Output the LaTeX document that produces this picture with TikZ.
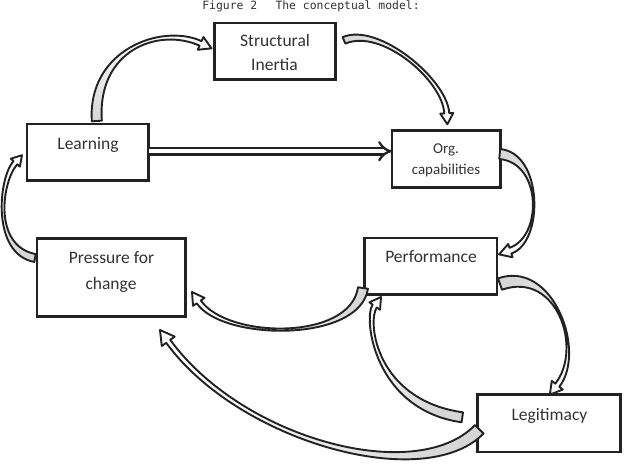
\documentclass[tikz,border=0pt]{standalone}
\usepackage{fontspec}
\setmainfont{Carlito}
\newfontfamily\ttlfont{DejaVu Sans Mono}
\newfontfamily\cjkfont{Noto Sans CJK JP}
\usetikzlibrary{calc,arrows.meta}
\definecolor{ink}{HTML}{222222}
\definecolor{txt}{HTML}{333333}
\tikzset{
  box/.style={draw=ink, line width=2.6pt, rectangle, inner sep=0pt, outer sep=0pt},
  lbl/.style={text=txt, font=\fontsize{17.5}{21}\selectfont, anchor=base, inner sep=0pt},
  slbl/.style={text=txt, font=\fontsize{15}{18}\selectfont, anchor=base, inner sep=0pt},
  arrbody/.style={draw=ink, line width=1.9pt, line join=round},
  gshade/.style={shading=axis, top color=white, middle color=white, bottom color=gray!32, shading angle=#1},
  dbl/.style={draw=ink, line width=2.3pt, double=white, double distance=4.5pt, -{Implies}}
}
% #1 start, #2 #3 controls, #4 tip, #5 base half width, #6 neck half width,
% #7 head half width, #8 head length, #9 shading angle
\newcommand\bendarrow[9]{%
  \coordinate (q0) at #1;
  \coordinate (q1) at #2;
  \coordinate (q2) at #3;
  \coordinate (q3) at #4;
  \coordinate (qh) at ($(q3)!#8!(q2)$);
  \path[arrbody, gshade=#9]
    ($(q0)!#5!90:(q1)$) .. controls ($(q1)!#5!-90:(q0)$) and ($(q2)!#6!90:(qh)$) .. ($(qh)!#6!-90:(q2)$)
    -- ($(qh)!#7!-90:(q2)$) -- (q3) -- ($(qh)!#7!90:(q2)$) -- ($(qh)!#6!90:(q2)$)
    .. controls ($(q2)!#6!-90:(qh)$) and ($(q1)!#5!90:(q0)$) .. ($(q0)!#5!-90:(q1)$) -- cycle;
}
\begin{document}
\begin{tikzpicture}[x=1pt, y=-1pt]
\useasboundingbox[fill=white] (0,0) rectangle (626,467);

\node[anchor=base, inner sep=0pt, text=txt, font=\fontsize{11.4}{13}\ttlfont] (title) at (311,9.3)
  {Figure 2 {\cjkfont 　}The conceptual model:};

% boxes
\node[box, minimum width=121pt, minimum height=56.7pt] (si) at (275,51.35) {};
\node[box, minimum width=121.7pt, minimum height=56.4pt] (learn) at (87.85,152.2) {};
\node[box, minimum width=108.7pt, minimum height=57.4pt] (org) at (446.35,159) {};
\node[box, minimum width=148.4pt, minimum height=78.4pt] (press) at (111.2,277.5) {};
\node[box, minimum width=132.4pt, minimum height=56.7pt] (perf) at (430.8,266.35) {};
\node[box, minimum width=143.1pt, minimum height=57.4pt] (legit) at (548.85,423.3) {};

% labels
\node[lbl] (siA) at (275,46.7) {Structural};
\node[lbl] (siB) at (274.5,70.7) {Inertia};
\node[lbl] (learnA) at (88,149.3) {Learning};
\node[slbl] (orgA) at (446,153.3) {Org.};
\node[slbl] (orgB) at (446,174) {capabilities};
\node[lbl] (pressA) at (111.5,263.3) {Pressure for};
\node[lbl] (pressB) at (111,289) {change};
\node[lbl] (perfA) at (431,262.7) {Performance};
\node[lbl] (legitA) at (549.5,420.7) {Legitimacy};

% straight double arrow
\coordinate (s1) at ([yshift=1pt]learn.east);
\draw[dbl] (s1) -- (s1 -| org.west);

% curved block arrows
\bendarrow{($(learn.north)+(9,-3)$)}{(92,50)}{(160,25)}{($(si.west)+(-3,-3)$)}{5pt}{2.5pt}{7pt}{12pt}{0}
\bendarrow{($(si.east)+(8.5,-11)$)}{(380,25)}{(445,80)}{($(org.north)+(1,-6)$)}{3.5pt}{2.5pt}{6.5pt}{11pt}{-90}
\bendarrow{($(org.east)+(-1,-5)$)}{(543,158)}{(543,240)}{($(perf.east)+(2,-12)$)}{5pt}{3pt}{7pt}{12pt}{180}
\bendarrow{($(perf.south west)+(-1.6,-6.7)$)}{(355,342)}{(225,340)}{($(press.east)+(6.6,14.5)$)}{5pt}{2.5pt}{7pt}{12pt}{90}
\bendarrow{($(perf.east)+(3,17.65)$)}{(555,265)}{(585,350)}{($(legit.north)+(1,0)$)}{6pt}{2.5pt}{7pt}{12pt}{225}
\bendarrow{($(legit.west)+(-15,-6)$)}{(375,405)}{(365,320)}{($(perf.south west)+(16.4,2.3)$)}{5pt}{2.5pt}{6.5pt}{11pt}{45}
\bendarrow{($(legit.west)+(2,6)$)}{(420,490)}{(240,440)}{($(press.south east)+(-25.4,13.3)$)}{6pt}{2.5pt}{8pt}{14pt}{70}
\bendarrow{($(press.west)+(-2,-19.5)$)}{(-8,250)}{(0,180)}{($(learn.west)+(-5,3)$)}{4pt}{2.5pt}{6pt}{10pt}{20}
\end{tikzpicture}
\end{document}
